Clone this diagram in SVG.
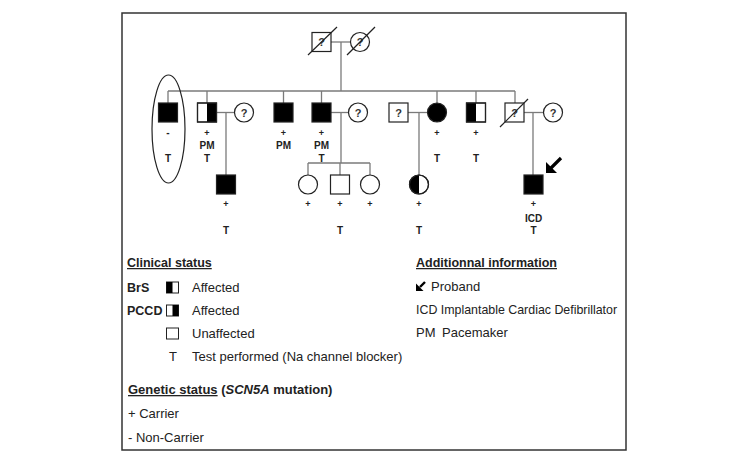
<svg xmlns="http://www.w3.org/2000/svg" width="749" height="460" viewBox="0 0 749 460">
<style>
.frame{fill:#fff;stroke:#333;stroke-width:1.5}
.ln{stroke:#7a7a7a;stroke-width:1.3;fill:none}
.nd{stroke:#222;stroke-width:1.2;fill:#fff}
.fl{fill:#000;stroke:#222;stroke-width:1.2}
.bk{fill:#000}
.q{font-family:"Liberation Sans",Arial,sans-serif;font-size:11px;font-weight:bold;fill:#333;text-anchor:middle}
.lb{font-family:"Liberation Sans",Arial,sans-serif;font-size:10px;font-weight:bold;fill:#222;text-anchor:middle}
.pl{font-family:"Liberation Sans",Arial,sans-serif;font-size:9px;font-weight:bold;fill:#222;text-anchor:middle}
.tx{font-family:"Liberation Sans",Arial,sans-serif;font-size:13px;fill:#222}
.hd{font-family:"Liberation Sans",Arial,sans-serif;font-size:12.5px;font-weight:bold;fill:#222}
.sl{stroke:#222;stroke-width:1.2}
</style>
<rect class="frame" x="122" y="13" width="504" height="437"/>

<g id="connectors">
<line class="ln" x1="331" y1="42" x2="351" y2="42"/>
<line class="ln" x1="341" y1="42" x2="341" y2="91"/>
<line class="ln" x1="168" y1="91" x2="515" y2="91"/>
<line class="ln" x1="168" y1="91" x2="168" y2="103"/>
<line class="ln" x1="207" y1="91" x2="207" y2="103"/>
<line class="ln" x1="283.5" y1="91" x2="283.5" y2="103"/>
<line class="ln" x1="321.5" y1="91" x2="321.5" y2="103"/>
<line class="ln" x1="437" y1="91" x2="437" y2="103"/>
<line class="ln" x1="476" y1="91" x2="476" y2="103"/>
<line class="ln" x1="515" y1="91" x2="515" y2="103"/>
<line class="ln" x1="216" y1="112.5" x2="234.5" y2="112.5"/>
<line class="ln" x1="331" y1="112.5" x2="348.5" y2="112.5"/>
<line class="ln" x1="408" y1="112.5" x2="427.5" y2="112.5"/>
<line class="ln" x1="524" y1="112.5" x2="543.5" y2="112.5"/>
<line class="ln" x1="226" y1="112.5" x2="226" y2="175"/>
<line class="ln" x1="341" y1="112.5" x2="341" y2="163"/>
<line class="ln" x1="419" y1="112.5" x2="419" y2="175"/>
<line class="ln" x1="533" y1="112.5" x2="533" y2="175"/>
<line class="ln" x1="308" y1="163" x2="370" y2="163"/>
<line class="ln" x1="308" y1="163" x2="308" y2="175"/>
<line class="ln" x1="340" y1="163" x2="340" y2="175"/>
<line class="ln" x1="370" y1="163" x2="370" y2="175"/>
</g>

<g id="gf">
<rect class="nd" x="312" y="32.5" width="19" height="19"/>
<text class="q" x="321.5" y="46">?</text>
<line class="sl" x1="308" y1="55" x2="337" y2="27"/>
</g>
<g id="gm">
<circle class="nd" cx="360" cy="42" r="9.5"/>
<text class="q" x="360" y="46">?</text>
<line class="sl" x1="347" y1="55" x2="375" y2="27"/>
</g>

<g id="n1">
<rect class="fl" x="158.5" y="103" width="19" height="19"/>
<ellipse cx="168.5" cy="129" rx="16.5" ry="54" fill="none" stroke="#222" stroke-width="1.2"/>
<text class="lb" x="168" y="136">-</text>
<text class="lb" x="168" y="162">T</text>
</g>
<g id="n2">
<rect class="nd" x="197.5" y="103" width="19" height="19"/>
<rect class="bk" x="207" y="103" width="9.5" height="19"/>
<rect x="197.5" y="103" width="19" height="19" fill="none" stroke="#222" stroke-width="1.2"/>
<text class="pl" x="207" y="136">+</text>
<text class="lb" x="207" y="149">PM</text>
<text class="lb" x="207" y="162">T</text>
</g>
<g id="n3">
<circle class="nd" cx="244" cy="112.5" r="9.5"/>
<text class="q" x="244" y="116.5">?</text>
</g>
<g id="n4">
<rect class="fl" x="274" y="103" width="19" height="19"/>
<text class="pl" x="283.5" y="136">+</text>
<text class="lb" x="283.5" y="149">PM</text>
</g>
<g id="n5">
<rect class="fl" x="312" y="103" width="19" height="19"/>
<text class="pl" x="321.5" y="136">+</text>
<text class="lb" x="321.5" y="149">PM</text>
<text class="lb" x="321.5" y="162">T</text>
</g>
<g id="n5w">
<circle class="nd" cx="358" cy="112.5" r="9.5"/>
<text class="q" x="358" y="116.5">?</text>
</g>
<g id="n6">
<rect class="nd" x="389" y="103" width="19" height="19"/>
<text class="q" x="398.5" y="116.5">?</text>
</g>
<g id="n7">
<circle class="fl" cx="437" cy="112.5" r="9.5"/>
<text class="pl" x="437" y="136">+</text>
<text class="lb" x="437" y="162">T</text>
</g>
<g id="n8">
<rect class="nd" x="466.5" y="103" width="19" height="19"/>
<rect class="bk" x="466.5" y="103" width="9.5" height="19"/>
<rect x="466.5" y="103" width="19" height="19" fill="none" stroke="#222" stroke-width="1.2"/>
<text class="pl" x="476" y="136">+</text>
<text class="lb" x="476" y="162">T</text>
</g>
<g id="n9">
<rect class="nd" x="505" y="103" width="19" height="19"/>
<text class="q" x="514.5" y="116.5">?</text>
<line class="sl" x1="500" y1="127" x2="528" y2="99"/>
</g>
<g id="n9w">
<circle class="nd" cx="553" cy="112.5" r="9.5"/>
<text class="q" x="553" y="116.5">?</text>
</g>

<g id="c1">
<rect class="fl" x="216.5" y="175" width="19" height="19"/>
<text class="pl" x="226" y="207">+</text>
<text class="lb" x="226" y="234">T</text>
</g>
<g id="c2">
<circle class="nd" cx="308" cy="184.5" r="9.5"/>
<text class="pl" x="308" y="207">+</text>
</g>
<g id="c3">
<rect class="nd" x="330.5" y="175" width="19" height="19"/>
<text class="pl" x="340" y="207">+</text>
<text class="lb" x="340" y="234">T</text>
</g>
<g id="c4">
<circle class="nd" cx="370" cy="184.5" r="9.5"/>
<text class="pl" x="370" y="207">+</text>
</g>
<g id="c5">
<circle class="nd" cx="419" cy="184.5" r="9.5"/>
<path class="bk" d="M419 175 A9.5 9.5 0 0 0 419 194 Z"/>
<circle cx="419" cy="184.5" r="9.5" fill="none" stroke="#222" stroke-width="1.2"/>
<text class="pl" x="419" y="207">+</text>
<text class="lb" x="419" y="234">T</text>
</g>
<g id="c6">
<rect class="fl" x="524" y="175" width="19" height="19"/>
<text class="pl" x="533.5" y="207">+</text>
<text class="lb" x="533.5" y="222">ICD</text>
<text class="lb" x="533.5" y="234">T</text>
<path d="M561 158 L551 168" stroke="#000" stroke-width="3.2"/>
<polygon class="bk" points="546,173 546,162 557,173"/>
</g>

<g id="legend-clinical">
<text class="hd" x="127" y="267" text-decoration="underline">Clinical status</text>
<text class="hd" x="127" y="292">BrS</text>
<rect x="166.5" y="282" width="12" height="11" fill="#fff" stroke="#222" stroke-width="1"/>
<rect class="bk" x="166.5" y="282" width="6" height="11"/>
<text class="tx" x="192" y="292">Affected</text>
<text class="hd" x="127" y="315">PCCD</text>
<rect x="166.5" y="305" width="12" height="11" fill="#fff" stroke="#222" stroke-width="1"/>
<rect class="bk" x="172.5" y="305" width="6" height="11"/>
<text class="tx" x="192" y="315">Affected</text>
<rect x="166.5" y="328" width="12" height="11" fill="#fff" stroke="#222" stroke-width="1"/>
<text class="tx" x="192" y="338">Unaffected</text>
<text class="tx" x="169" y="361">T</text>
<text class="tx" x="192" y="361">Test performed (Na channel blocker)</text>
</g>
<g id="legend-additional">
<text class="hd" x="416" y="267" text-decoration="underline">Additionnal information</text>
<path d="M425 282 L420 287" stroke="#000" stroke-width="2.4"/>
<polygon class="bk" points="416,291 416,283.5 423.5,291"/>
<text class="tx" x="431" y="291">Proband</text>
<text class="tx" x="416" y="314" style="font-size:12.4px">ICD Implantable Cardiac Defibrillator</text>
<text class="tx" x="416" y="337">PM</text>
<text class="tx" x="442" y="337">Pacemaker</text>
</g>
<g id="legend-genetic">
<text class="hd" x="128" y="394" style="font-size:13px"><tspan text-decoration="underline">Genetic status</tspan> (<tspan font-style="italic">SCN5A</tspan> mutation)</text>
<text class="tx" x="128" y="418">+ Carrier</text>
<text class="tx" x="128" y="442">- Non-Carrier</text>
</g>
</svg>
